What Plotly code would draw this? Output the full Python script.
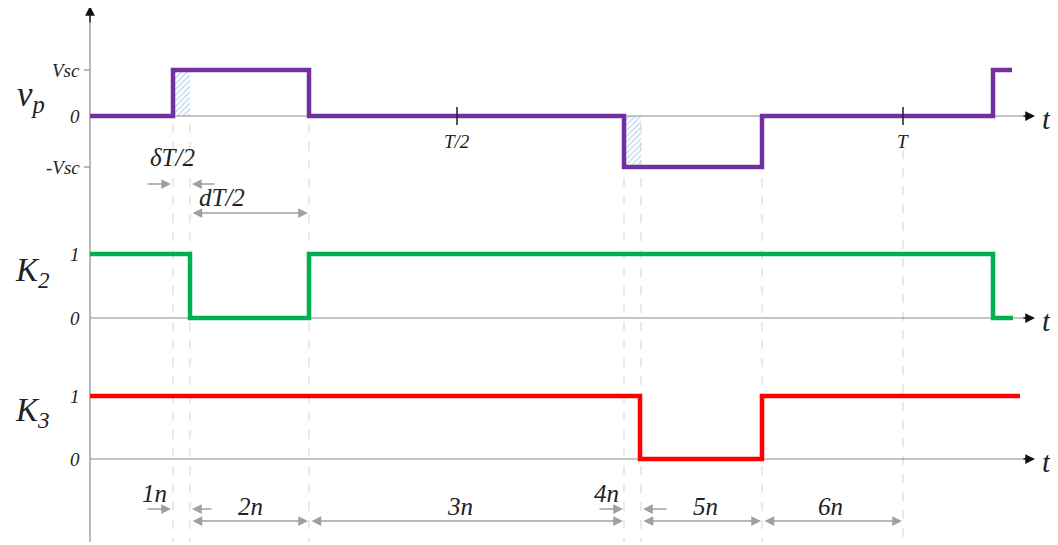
import plotly.graph_objects as go

# ---------------- data (time in chart units, t=90 is origin) ----------------
t_origin = 90
t_end_axis = 1030
t_half = 457          # T/2
t_full = 903          # T

vp_times = [90, 173, 309, 624, 762, 993, 1012]
vp_levels = [0, 1, 0, -1, 0, 1, 1]

k2_times = [90, 190, 309, 993, 1013]
k2_levels = [1, 0, 1, 0, 0]

k3_times = [90, 640, 762, 1020]
k3_levels = [1, 0, 1, 1]

dead_zones = [(173, 190, 1), (624, 641, -1)]   # (start, end, vp level)
guide_times = [173, 190, 309, 624, 641, 762, 903]

vp_ticks = ["Vsc", "0", "-Vsc"]
k_ticks = ["1", "0"]
interval_labels = ["1n", "2n", "3n", "4n", "5n", "6n"]

# ---------------- layout helpers (vertical placement of each trace) ----------------
VP_POS = {1: 70, 0: 116, -1: 167}
K2_POS = {1: 254, 0: 318}
K3_POS = {1: 396, 0: 459}

PURPLE = "#7030A0"
GREEN = "#00B050"
RED = "#FF0000"
AX = "#8c8c8c"
ARR = "#a0a0a0"
FONT = "Liberation Serif, Times New Roman, serif"

OFF = 8  # page body margin
W, H = 1058 - OFF, 545 - OFF

fig = go.Figure()

# hatched dead-time regions
for a, b, lvl in dead_zones:
    y0, y1 = VP_POS[0], VP_POS[lvl]
    fig.add_trace(go.Scatter(
        x=[a, b, b, a, a], y=[y0, y0, y1, y1, y0], mode="lines",
        line=dict(width=0), fill="toself", fillcolor="rgba(255,255,255,0)",
        fillpattern=dict(shape="/", fgcolor="#6fa8dc", bgcolor="rgba(255,255,255,0)",
                         size=4, solidity=0.3),
        hoverinfo="skip", showlegend=False))

shapes = []
# guide dashed lines
for g in guide_times:
    y_start = 124 if g != t_full else 150
    shapes.append(dict(type="line", x0=g, x1=g, y0=y_start, y1=542, layer="below",
                       line=dict(color="#d3d3d3", width=1, dash="dash")))
# vertical axis
shapes.append(dict(type="line", x0=t_origin, x1=t_origin, y0=16, y1=542, layer="below",
                   line=dict(color=AX, width=1.2)))
# horizontal axes
for yb in (VP_POS[0], K2_POS[0], K3_POS[0]):
    shapes.append(dict(type="line", x0=t_origin, x1=t_end_axis - 6, y0=yb, y1=yb, layer="below",
                       line=dict(color=AX, width=1.2)))
# vp level ticks
for lvl in (1, -1):
    shapes.append(dict(type="line", x0=t_origin - 6, x1=t_origin, y0=VP_POS[lvl], y1=VP_POS[lvl],
                       layer="below", line=dict(color=AX, width=1.2)))
# T/2 and T ticks
for tt in (t_half, t_full):
    shapes.append(dict(type="line", x0=tt, x1=tt, y0=VP_POS[0] - 9, y1=VP_POS[0] + 9,
                       line=dict(color="#222", width=1.5)))

# signal traces
def add_signal(times, levels, pos, color):
    fig.add_trace(go.Scatter(
        x=times, y=[pos[v] for v in levels], mode="lines",
        line=dict(color=color, width=4.5, shape="hv"),
        hoverinfo="skip", showlegend=False))

add_signal(vp_times, vp_levels, VP_POS, PURPLE)
add_signal(k2_times, k2_levels, K2_POS, GREEN)
add_signal(k3_times, k3_levels, K3_POS, RED)

ann = []
def text(x, y, s, size, xanchor="center"):
    ann.append(dict(x=x, y=y, text=s, showarrow=False, xanchor=xanchor, yanchor="middle",
                    font=dict(family=FONT, size=size, color="#222")))

def arrow(x_to, y, x_from, both=False, color=ARR, width=1.3, size=1.5):
    ann.append(dict(x=x_to, y=y, ax=x_from, ay=y, xref="x", yref="y", axref="x", ayref="y",
                    text="", showarrow=True, arrowhead=2, startarrowhead=2, arrowsize=size,
                    startarrowsize=size, arrowwidth=width, arrowcolor=color,
                    arrowside="end+start" if both else "end"))

# axis arrowheads
ann.append(dict(x=t_origin, y=6, ax=t_origin, ay=24, xref="x", yref="y", axref="x", ayref="y",
                text="", showarrow=True, arrowhead=2, arrowsize=1.5, arrowwidth=1.3, arrowcolor="#111"))
for yb in (VP_POS[0], K2_POS[0], K3_POS[0]):
    ann.append(dict(x=t_end_axis + 5, y=yb, ax=t_end_axis - 8, ay=yb, xref="x", yref="y",
                    axref="x", ayref="y", text="", showarrow=True, arrowhead=2, arrowsize=1.5,
                    arrowwidth=1.3, arrowcolor="#111"))
    text(1046, yb + 2, "<i>t</i>", 30)

# signal names
text(31, 96, "<i>v<sub>p</sub></i>", 35)
text(32, 272, "<i>K<sub>2</sub></i>", 33)
text(32, 412, "<i>K<sub>3</sub></i>", 33)

# tick labels
for lab, lvl in zip(vp_ticks, (1, 0, -1)):
    text(82, VP_POS[lvl], "<i>%s</i>" % lab, 19, xanchor="right")
for lab, lvl in zip(k_ticks, (1, 0)):
    text(82, K2_POS[lvl], "<i>%s</i>" % lab, 19, xanchor="right")
    text(82, K3_POS[lvl], "<i>%s</i>" % lab, 19, xanchor="right")
text(t_half, 141, "<i>T/2</i>", 19)
text(t_full, 141, "<i>T</i>", 19)

# delta / d annotations
text(172, 157, "<i>δT/2</i>", 25)
text(222, 197, "<i>dT/2</i>", 25)
arrow(171, 184, 146)
arrow(192, 184, 216)
arrow(308, 213, 191, both=True)

# interval labels (bottom)
lab_pos = [(154, 493), (250, 506), (460, 506), (606, 493), (705, 506), (830, 506)]
for lab, (lx, ly) in zip(interval_labels, lab_pos):
    text(lx, ly, "<i>%s</i>" % lab, 25)
arrow(171, 509, 146)
arrow(192, 509, 213)
arrow(308, 521, 191, both=True)
arrow(623, 521, 310, both=True)
arrow(623, 509, 598)
arrow(643, 509, 668)
arrow(761, 521, 642, both=True)
arrow(902, 521, 763, both=True)

fig.update_layout(
    width=W, height=H, margin=dict(l=0, r=0, t=0, b=0),
    paper_bgcolor="white", plot_bgcolor="white",
    xaxis=dict(range=[OFF, 1058], visible=False, fixedrange=True),
    yaxis=dict(range=[545, OFF], visible=False, fixedrange=True),
    shapes=shapes, annotations=ann, showlegend=False,
)

fig.write_html("out.html", config={"displayModeBar": False})
